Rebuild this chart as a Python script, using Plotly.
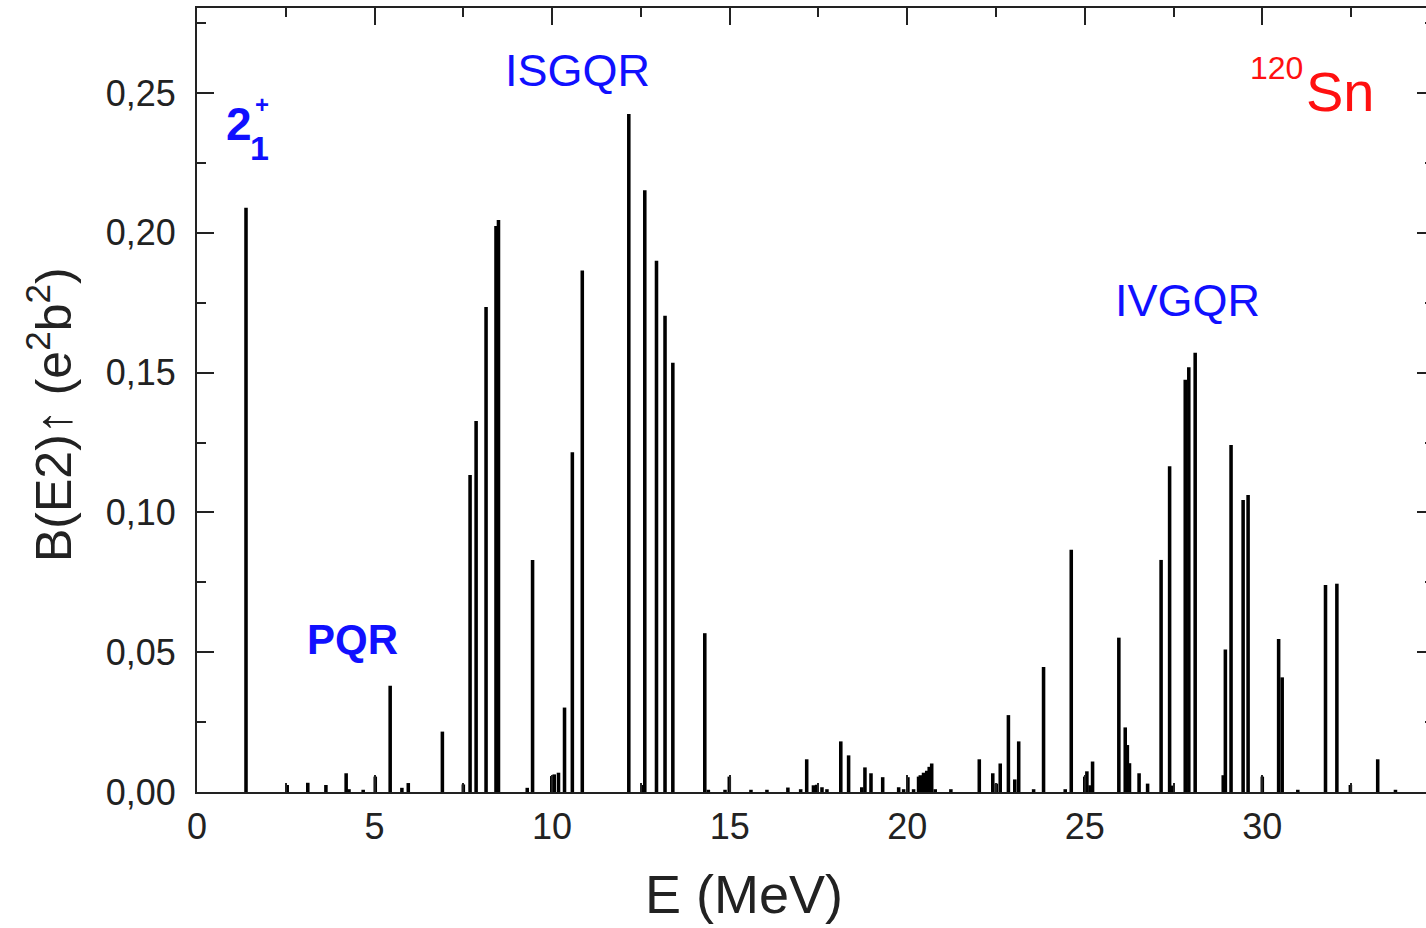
import plotly.graph_objects as go

# Energies (MeV) and B(E2)up strengths (e^2 b^2)
energy = [1.38, 2.54, 3.12, 3.63, 4.20, 4.28, 4.68, 5.02, 5.44, 5.77, 5.95, 6.91,
          7.50, 7.69, 7.86, 8.14, 8.42, 8.49, 9.30, 9.45, 9.99, 10.06, 10.18, 10.35,
          10.57, 10.85, 12.16, 12.53, 12.61, 12.94, 13.18, 13.40, 14.30, 14.40, 14.87,
          14.99, 15.60, 16.05, 16.64, 17.00, 17.17, 17.36, 17.45, 17.60, 17.74, 18.13,
          18.35, 18.72, 18.81, 18.98, 19.31, 19.76, 19.90, 20.02, 20.18, 20.32, 20.37,
          20.46, 20.55, 20.62, 20.69, 20.79, 21.23, 22.03, 22.41, 22.51, 22.62, 22.85,
          23.03, 23.14, 23.56, 23.84, 24.45, 24.62, 25.00, 25.06, 25.15, 25.22, 25.96,
          26.14, 26.20, 26.26, 26.53, 26.77, 27.15, 27.39, 27.46, 27.83, 27.93, 28.11,
          28.90, 28.96, 29.12, 29.46, 29.60, 30.00, 30.46, 30.56, 31.00, 31.78, 32.10,
          32.48, 33.25, 33.75]
bE2 = [0.209, 0.0025, 0.0033, 0.0025, 0.0067, 0.0010, 0.0008, 0.0055, 0.038, 0.0015, 0.0032, 0.0216,
       0.0027, 0.1134, 0.1327, 0.1735, 0.2024, 0.2046, 0.0015, 0.083, 0.0057, 0.0063, 0.0069, 0.0302,
       0.1215, 0.1865, 0.2425, 0.0025, 0.2152, 0.190, 0.1703, 0.1535, 0.0568, 0.0008, 0.0008,
       0.0055, 0.0008, 0.0008, 0.0016, 0.0010, 0.0117, 0.0024, 0.0026, 0.0017, 0.0010, 0.0181,
       0.0131, 0.0017, 0.0088, 0.0067, 0.0053, 0.0017, 0.0010, 0.0053, 0.0010, 0.0055, 0.0060,
       0.0069, 0.0076, 0.0090, 0.0102, 0.0010, 0.0010, 0.0117, 0.0067, 0.0030, 0.0102, 0.0275,
       0.0045, 0.0181, 0.0010, 0.0447, 0.0010, 0.0866, 0.0055, 0.0074, 0.0024, 0.0109, 0.0552,
       0.0231, 0.0168, 0.0103, 0.0067, 0.0030, 0.0830, 0.1165, 0.0023, 0.1474, 0.1519, 0.1571,
       0.0060, 0.0510, 0.1241, 0.1044, 0.1062, 0.0055, 0.0547, 0.0410, 0.0008, 0.0740, 0.0745,
       0.0025, 0.0117, 0.0008]

x_ticks = [0, 5, 10, 15, 20, 25, 30]
y_ticks = [0.00, 0.05, 0.10, 0.15, 0.20, 0.25]

W, H = 1426, 928
L, R, T, B = 197, 0, 8, 136
PW, PH = W - L - R, H - T - B
XMAX = PW / 35.51
YMAX = PH / 2796.0

def px(x):
    return (x - L) / PW

def py(y):
    return (H - B - y) / PH

FONT = "Liberation Sans, Arial, sans-serif"
BLUE = "#1010ff"
RED = "#ff1010"

fig = go.Figure()
fig.add_trace(go.Bar(x=energy, y=bE2, width=0.1, marker=dict(color="black", line=dict(width=0)),
                     showlegend=False))
fig.add_trace(go.Scatter(x=[None], y=[None], yaxis="y2", showlegend=False))

tick_common = dict(ticks="inside", tickwidth=2, tickcolor="#222", showgrid=False, zeroline=False,
                   tickfont=dict(family=FONT, size=36, color="#222"))

fig.update_layout(
    width=W, height=H,
    margin=dict(l=L, r=R, t=T, b=B, pad=0),
    plot_bgcolor="white", paper_bgcolor="white",
    separators=",.",
    barmode="overlay",
    showlegend=False,
    xaxis=dict(range=[0, XMAX], tickvals=x_ticks, ticklen=17,
               minor=dict(dtick=2.5, tick0=0, ticklen=9, tickwidth=2, ticks="inside", tickcolor="#222"),
               showline=True, linewidth=2, linecolor="#222", mirror="ticks",
               ticklabelstandoff=2, **tick_common),
    yaxis=dict(range=[0, YMAX], tickvals=y_ticks, tickformat=".2f", ticklen=17,
               minor=dict(dtick=0.025, tick0=0, ticklen=9, tickwidth=2, ticks="inside", tickcolor="#222"),
               showline=True, linewidth=2, linecolor="#222", mirror=False,
               ticklabelstandoff=12, **tick_common),
    yaxis2=dict(range=[0, YMAX], overlaying="y", side="right", tickvals=y_ticks, ticklen=9,
                showticklabels=False, showline=False, ticks="inside", tickwidth=2, tickcolor="#222",
                showgrid=False, zeroline=False,
                minor=dict(dtick=0.025, tick0=0, ticklen=1, tickwidth=2, ticks="inside", tickcolor="#222")),
)

def ann(text, x, y, size, color, bold=False, angle=0):
    t = f"<b>{text}</b>" if bold else text
    fig.add_annotation(text=t, x=px(x), y=py(y), xref="paper", yref="paper",
                       xanchor="center", yanchor="middle", showarrow=False, textangle=angle,
                       font=dict(family=FONT, size=size, color=color))

ann("2", 239, 124, 46, BLUE, bold=True)
ann("+", 262, 104, 24, BLUE, bold=True)
ann("1", 259, 148, 34, BLUE, bold=True)
ann("PQR", 352, 639, 42, BLUE, bold=True)
ann("ISGQR", 577, 70, 45, BLUE)
ann("IVGQR", 1187, 300, 45, BLUE)
ann("120", 1276, 68, 32, RED)
ann("Sn", 1340, 92, 56, RED)
ann("E (MeV)", 744, 894, 54, "#222")
ann("B(E2)↑ (e<sup>2</sup>b<sup>2</sup>)", 50, 415, 50, "#222", angle=-90)

fig.write_html("out.html")
